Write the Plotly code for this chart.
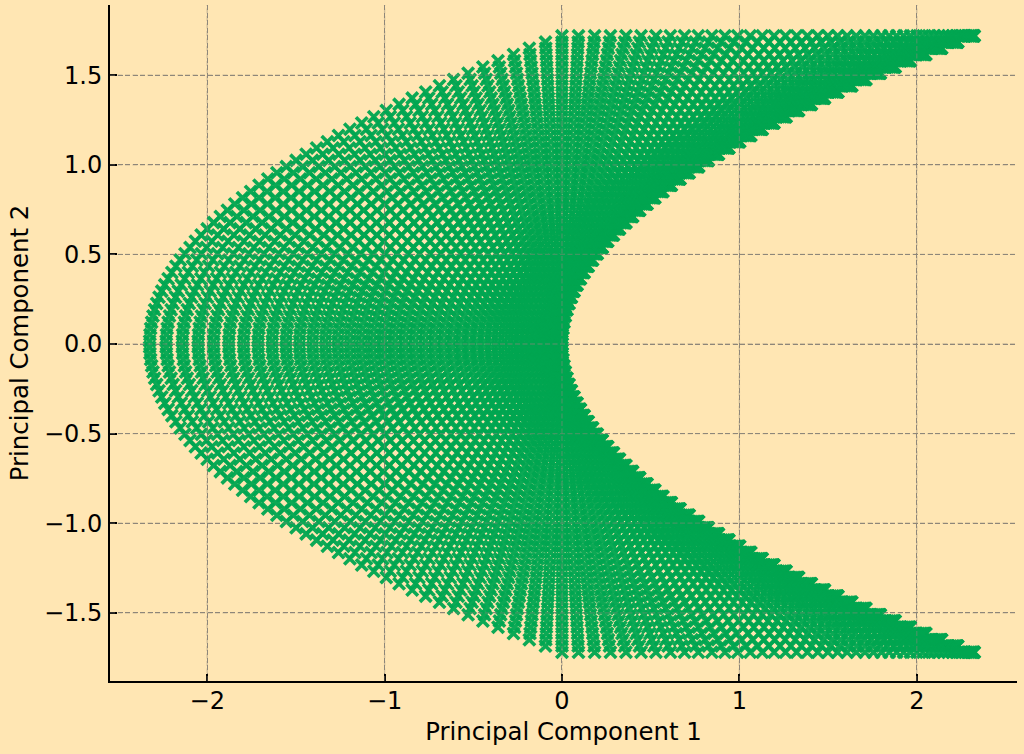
import plotly.graph_objects as go

# Row levels of the lattice (upper half; the lower half mirrors it)
row_y = [0.0174,0.0521,0.0869,0.1216,0.1563,0.1911,0.2258,0.2606,0.2953,0.3300,
         0.3648,0.3995,0.4343,0.4690,0.5037,0.5385,0.5732,0.6080,0.6427,0.6774,
         0.7122,0.7469,0.7817,0.8164,0.8511,0.8859,0.9206,0.9554,0.9901,1.0248,
         1.0596,1.0943,1.1291,1.1638,1.1985,1.2333,1.2680,1.3028,1.3375,1.3722,
         1.4070,1.4417,1.4765,1.5112,1.5459,1.5807,1.6154,1.6502,1.6849,1.7196]
# Rightmost x of each row (inner edge of the crescent)
row_inner_x = [0.0002,0.0021,0.0059,0.0116,0.0192,0.0287,0.0401,0.0534,0.0686,0.0856,
               0.1046,0.1255,0.1483,0.1729,0.1995,0.2279,0.2583,0.2906,0.3247,0.3608,
               0.3987,0.4386,0.4803,0.5240,0.5695,0.6170,0.6663,0.7175,0.7707,0.8257,
               0.8826,0.9414,1.0022,1.0648,1.1293,1.1957,1.2640,1.3343,1.4064,1.4804,
               1.5563,1.6341,1.7138,1.7954,1.8789,1.9642,2.0515,2.1407,2.2318,2.3248]
# Distance of each column to the left of the row's inner edge
col_depth = [0.0002,0.0021,0.0059,0.0116,0.0192,0.0287,0.0401,0.0534,0.0686,0.0856,
             0.1046,0.1255,0.1483,0.1729,0.1995,0.2279,0.2583,0.2906,0.3247,0.3608,
             0.3987,0.4386,0.4803,0.5240,0.5695,0.6170,0.6663,0.7175,0.7707,0.8257,
             0.8826,0.9414,1.0022,1.0648,1.1293,1.1957,1.2640,1.3343,1.4064,1.4804,
             1.5563,1.6341,1.7138,1.7954,1.8789,1.9642,2.0515,2.1407,2.2318,2.3248]
x_ticks = [-2, -1, 0, 1, 2]
y_ticks = [-1.5, -1.0, -0.5, 0.0, 0.5, 1.0, 1.5]
x_title = "Principal Component 1"
y_title = "Principal Component 2"

BG = "#FFE6B3"
GREEN = "#00A651"
GRID = "#8E877A"
FONT = "DejaVu Sans"

xs, ys = [], []
for level, inner in zip(row_y, row_inner_x):
    for sign in (1, -1):
        for depth in col_depth:
            xs.append(inner - depth)
            ys.append(sign * level)

fig = go.Figure(go.Scatter(
    x=xs, y=ys, mode="markers",
    marker=dict(symbol="x-thin", size=11.5, color=GREEN, opacity=0.95,
                line=dict(color=GREEN, width=3.6)),
    hoverinfo="skip",
))

# the grid also shows faintly through the marks
for t in x_ticks:
    fig.add_shape(type="line", xref="x", yref="paper", x0=t, x1=t, y0=0, y1=1, layer="above",
                  line=dict(color=GRID, width=1.3, dash="5px,2.5px"), opacity=0.45)
for t in y_ticks:
    fig.add_shape(type="line", xref="paper", yref="y", x0=0, x1=1, y0=t, y1=t, layer="above",
                  line=dict(color=GRID, width=1.3, dash="5px,2.5px"), opacity=0.45)

def axis(title, ticks, rng, labels, standoff, label_pad):
    return dict(
        title=dict(text=title, font=dict(family=FONT, size=24.4, color="#000000"), standoff=standoff),
        range=rng, tickmode="array", tickvals=ticks, ticktext=labels,
        tickfont=dict(family=FONT, size=24, color="#000000"),
        ticks="inside", ticklen=7, tickwidth=2, tickcolor="#000000",
        ticklabelstandoff=label_pad,
        showline=True, linecolor="#000000", linewidth=2, mirror=False,
        showgrid=True, gridcolor=GRID, griddash="5px,2.5px", gridwidth=1.3,
        zeroline=False, layer="above traces",
    )

fig.update_layout(
    width=1024, height=754, autosize=False,
    margin=dict(l=110, r=7, t=5, b=73),
    paper_bgcolor=BG, plot_bgcolor=BG,
    showlegend=False,
    xaxis=axis(x_title, x_ticks, [-2.548, 2.565], [str(t).replace("-", "\u2212") for t in x_ticks], 9, -3),
    yaxis=axis(y_title, y_ticks, [-1.8806, 1.892], [f"{t:.1f}".replace("-", "\u2212") for t in y_ticks], 8, 1),
)
fig.write_html("out.html", config=dict(displayModeBar=False),
               post_script="document.body.style.margin='0';")
